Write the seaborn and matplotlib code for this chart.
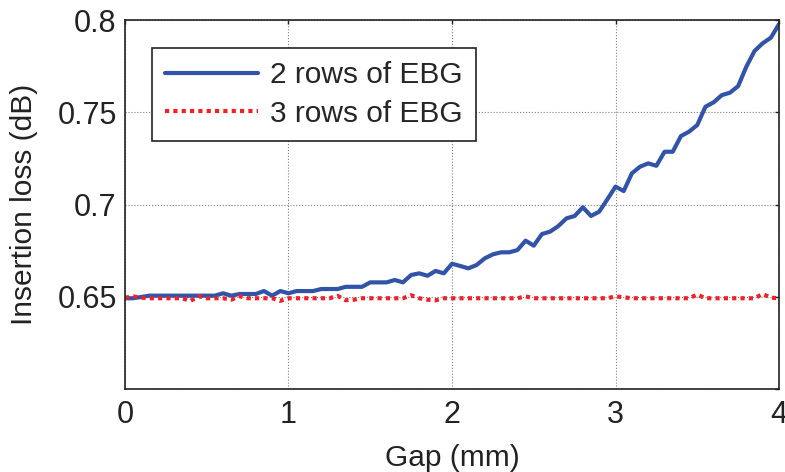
import numpy as np
import pandas as pd
import matplotlib
matplotlib.use("Agg")
import matplotlib.pyplot as plt
import seaborn as sns

# gap values (mm), step 0.05
gap = np.round(np.arange(0, 4.0001, 0.05), 2)

# insertion loss (dB)
rows2 = [0.6492, 0.6492, 0.6499, 0.6506, 0.6506, 0.6506, 0.6506, 0.6506, 0.6506, 0.6506,
         0.6506, 0.6506, 0.6519, 0.6506, 0.6515, 0.6515, 0.6515, 0.6531, 0.6506, 0.6531,
         0.6519, 0.6531, 0.6531, 0.6531, 0.6542, 0.6542, 0.6542, 0.6554, 0.6554, 0.6554,
         0.6578, 0.6578, 0.6578, 0.6591, 0.6578, 0.6618, 0.6627, 0.6614, 0.6640, 0.6627,
         0.6679, 0.6667, 0.6654, 0.6672, 0.6708, 0.6730, 0.6741, 0.6741, 0.6753, 0.6804,
         0.6777, 0.6840, 0.6853, 0.6883, 0.6925, 0.6938, 0.6985, 0.6938, 0.6961, 0.7028,
         0.7097, 0.7073, 0.7169, 0.7205, 0.7223, 0.7210, 0.7286, 0.7286, 0.7371, 0.7395,
         0.7431, 0.7530, 0.7554, 0.7593, 0.7606, 0.7642, 0.7747, 0.7832, 0.7874, 0.7904,
         0.7978]

rows3 = [0.6495, 0.6502, 0.6495, 0.6492, 0.6492, 0.6492, 0.6492, 0.6492, 0.6477, 0.6503,
         0.6492, 0.6492, 0.6492, 0.6484, 0.6503, 0.6492, 0.6492, 0.6492, 0.6492, 0.6478,
         0.6492, 0.6492, 0.6492, 0.6492, 0.6492, 0.6492, 0.6505, 0.6481, 0.6484, 0.6492,
         0.6492, 0.6492, 0.6492, 0.6492, 0.6492, 0.6508, 0.6492, 0.6484, 0.6481, 0.6492,
         0.6492, 0.6492, 0.6492, 0.6492, 0.6492, 0.6492, 0.6492, 0.6492, 0.6492, 0.6502,
         0.6492, 0.6492, 0.6492, 0.6492, 0.6492, 0.6492, 0.6492, 0.6492, 0.6492, 0.6492,
         0.6502, 0.6497, 0.6492, 0.6492, 0.6492, 0.6492, 0.6492, 0.6492, 0.6492, 0.6492,
         0.6512, 0.6492, 0.6492, 0.6492, 0.6492, 0.6492, 0.6492, 0.6492, 0.6515, 0.6495,
         0.6492]

labels = ["2 rows of EBG", "3 rows of EBG"]
yticks = [0.6, 0.65, 0.7, 0.75, 0.8]
ytick_labels = ["", "0.65", "0.7", "0.75", "0.8"]

df = pd.DataFrame({
    "gap": np.concatenate([gap, gap]),
    "loss": rows2 + rows3,
    "series": [labels[0]] * len(gap) + [labels[1]] * len(gap),
})

sns.set_style("white")
plt.rcParams["font.family"] = ["Liberation Sans", "DejaVu Sans"]

fig = plt.figure(figsize=(7.85, 4.72), dpi=100)
ax = fig.add_axes([0.1592, 0.1758, 0.8332, 0.7818])

sns.lineplot(data=df, x="gap", y="loss", hue="series", style="series",
             palette=["#3153a8", "#f0202a"],
             dashes={labels[0]: "", labels[1]: (1, 1)},
             linewidth=3, ax=ax)

ax.set_xlim(0, 4)
ax.set_ylim(0.6, 0.8)
ax.set_xticks([0, 1, 2, 3, 4])
ax.set_yticks(yticks)
ax.set_yticklabels(ytick_labels)
ax.grid(True, linestyle=":", color="0.5", linewidth=0.8)
ax.tick_params(direction="in", length=3, width=1, top=True, right=True,
               labelsize=22, colors="#222222")
ax.tick_params(axis="x", pad=8)
ax.tick_params(axis="y", pad=6)
for s in ax.spines.values():
    s.set_visible(True)
    s.set_color("#222222")
    s.set_linewidth(1.2)

ax.set_xlabel("Gap (mm)", fontsize=21.5, color="#222222", labelpad=10)
ax.set_ylabel("Insertion loss (dB)", fontsize=21.5, color="#222222", labelpad=14)

leg = ax.legend(loc="upper left", bbox_to_anchor=(0.041, 0.924), borderaxespad=0,
                fontsize=21.5, handlelength=3.1, frameon=True, fancybox=False,
                edgecolor="#222222", framealpha=1, labelspacing=0.35,
                handletextpad=0.4, borderpad=0.45)
leg.get_frame().set_linewidth(1.2)

fig.savefig("out.png", dpi=100)
